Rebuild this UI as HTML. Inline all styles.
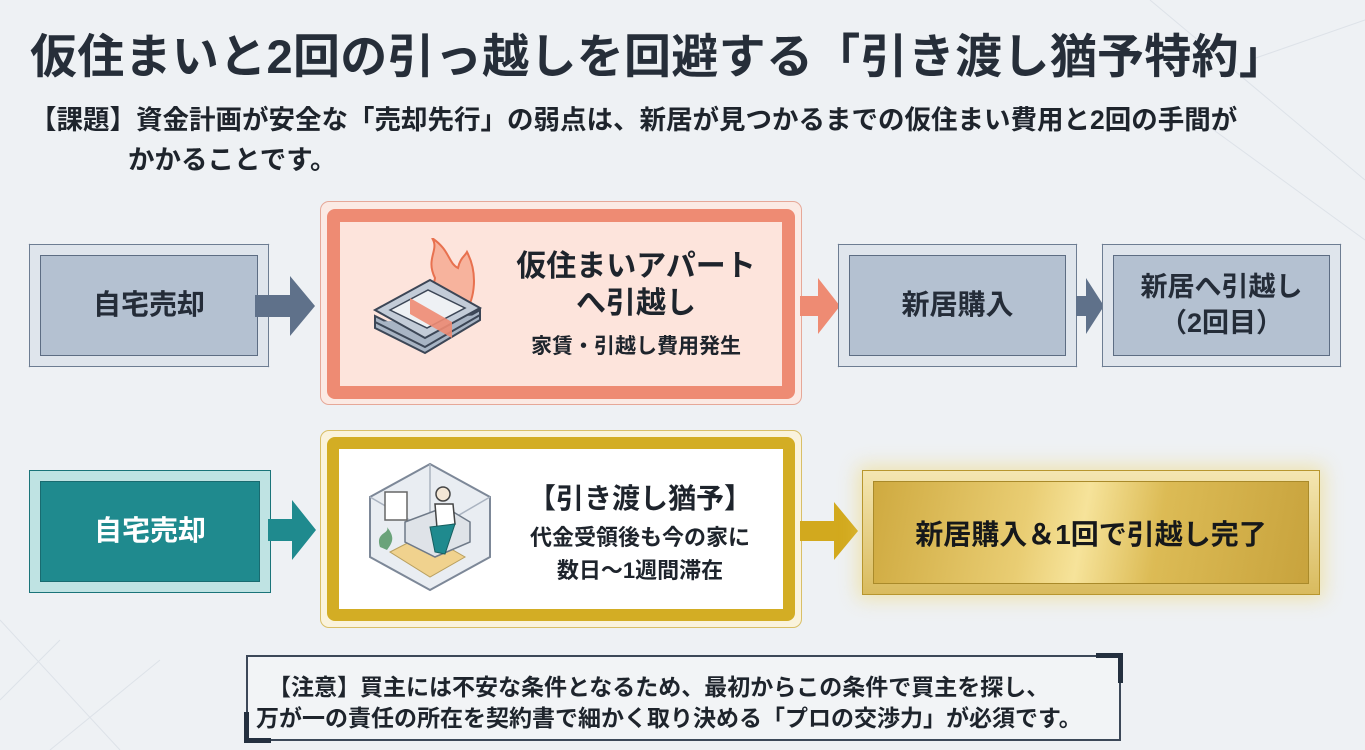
<!DOCTYPE html>
<html><head><meta charset="utf-8">
<style>
*{margin:0;padding:0;box-sizing:border-box}
body{width:1365px;height:750px;overflow:hidden;background:#eef1f4;font-family:"Liberation Sans","Noto Sans CJK JP",sans-serif;font-weight:bold;color:#1e242c;position:relative}
.a{position:absolute}
.t{white-space:nowrap}
.bev{position:absolute;border:1.5px solid #6d7d92;background:#dfe5ec}
.bev .in{position:absolute;left:10px;top:10px;right:10px;bottom:10px;border:1.5px solid #5d6d83;background:#b4c1d1;display:flex;align-items:center;justify-content:center;text-align:center;font-size:28px;color:#242c38;line-height:1.3}
.arr{position:absolute}
</style></head><body>
<svg class="a" style="left:0;top:0" width="1365" height="750">
<g stroke="#dde2e8" stroke-width="1" fill="none">
<path d="M1150 0 L1365 180 M1250 60 L1365 20 M1200 120 L1365 240"/>
<path d="M0 620 L120 750 M0 700 L60 640 M50 750 L160 660"/>
</g>
<g stroke="#5d6d83" stroke-width="1" fill="none">
<path d="M29 244 L39 254 M269 244 L259 254 M29 367 L39 357 M269 367 L259 357"/>
<path d="M838 244 L848 254 M1077 244 L1067 254 M838 367 L848 357 M1077 367 L1067 357"/>
<path d="M1102 244 L1112 254 M1341 244 L1331 254 M1102 367 L1112 357 M1341 367 L1331 357"/>
</g>
</svg>
<div class="a t" style="left:30px;top:18px;font-size:47px;color:#262e39;letter-spacing:0.3px">仮住まいと2回の引っ越しを回避する「引き渡し猶予特約」</div>
<div class="a t" style="left:30px;top:100px;font-size:26.5px;line-height:40px;color:#1e242c">【課題】資金計画が安全な「売却先行」の弱点は、新居が見つかるまでの仮住まい費用と2回の手間が</div>
<div class="a t" style="left:128px;top:140px;font-size:26.5px;line-height:40px;color:#1e242c">かかることです。</div>

<!-- row1 -->
<div class="bev" style="left:29px;top:244px;width:240px;height:123px"><div class="in">自宅売却</div></div>
<svg class="arr" style="left:255px;top:276px" width="62" height="60"><path d="M0 19 H35 V0 L60 30 L35 60 V41 H0Z" fill="#5f718a"/></svg>

<div class="a" style="left:320px;top:201px;width:482px;height:204px;border:1.5px solid #e6a898;border-radius:9px;background:#fbeae4"></div>
<div class="a" style="left:327px;top:209px;width:468px;height:190px;border:13px solid #ee8b73;border-radius:8px;background:#fde4dc"></div>
<svg class="a" style="left:370px;top:238px" width="115" height="135">
<path d="M65 40 C55 20 70 12 62 0 C80 12 78 25 88 30 C90 20 95 18 97 14 C108 35 105 60 95 75 L60 65Z" fill="#f7b39d" stroke="#e8714f" stroke-width="2"/>
<g stroke="#3c4656" stroke-width="2" fill="#a8b4c4">
<path d="M5 90 L55 115 L110 82 L110 72 L55 103 L5 78Z"/>
<path d="M5 84 L55 109 L110 77"/>
<path d="M5 72 L60 42 L110 70 L55 100Z" fill="#c3ccd8"/>
</g>
<path d="M20 72 L58 52 L95 70 L57 90Z" fill="#eef1f4" stroke="#3c4656" stroke-width="1.5"/>
<path d="M40 60 L82 84 L82 100 L40 76Z" fill="#ee8b73" opacity=".9"/>
</svg>
<div class="a t" style="left:490px;top:248px;width:292px;text-align:center;font-size:30px;line-height:37px">仮住まいアパート<br>へ引越し</div>
<div class="a t" style="left:490px;top:330px;width:292px;text-align:center;font-size:21px">家賃・引越し費用発生</div>
<svg class="arr" style="left:800px;top:276px" width="42" height="60"><path d="M0 20 H18 V2 L40 30 L18 58 V40 H0Z" fill="#ee8b73"/></svg>

<div class="bev" style="left:838px;top:244px;width:239px;height:123px"><div class="in">新居購入</div></div>
<svg class="arr" style="left:1076px;top:276px" width="30" height="60"><path d="M0 20 H10 V2 L28 30 L10 58 V40 H0Z" fill="#5f718a"/></svg>
<div class="bev" style="left:1102px;top:244px;width:239px;height:123px"><div class="in" style="font-size:27px">新居へ引越し<br>（2回目）</div></div>

<!-- row2 -->
<div class="bev" style="left:29px;top:470px;width:242px;height:123px;border-color:#1a7479;background:#bfe3e3"><div class="in" style="background:#1f8a8e;border-color:#196b70;color:#fff">自宅売却</div></div>
<svg class="arr" style="left:268px;top:500px" width="50" height="60"><path d="M0 19 H24 V0 L48 30 L24 60 V41 H0Z" fill="#1f8a8e"/></svg>

<div class="a" style="left:320px;top:430px;width:482px;height:198px;border:1.5px solid #d9bf66;border-radius:9px;background:#faf3dc"></div>
<div class="a" style="left:327px;top:437px;width:468px;height:184px;border:12px solid #d3ad24;border-radius:8px;background:#fff"></div>
<svg class="a" style="left:365px;top:462px" width="130" height="130">
<path d="M65 2 L125 35 L125 95 L65 128 L5 95 L5 35Z" fill="#e9edf2" stroke="#7d8898" stroke-width="2"/>
<path d="M65 70 L65 2 M65 70 L5 35 M65 70 L125 35" stroke="#aab3c0" stroke-width="1.5" fill="none"/>
<path d="M25 90 L60 72 L100 95 L65 115Z" fill="#f0d28e" stroke="#b9a060" stroke-width="1"/>
<path d="M40 60 L80 45 L105 60 L105 80 L70 95 L40 80Z" fill="#dfe3e8" stroke="#6f7a88" stroke-width="1.5"/>
<circle cx="78" cy="32" r="7" fill="#f4e7d6" stroke="#444" stroke-width="1.5"/>
<path d="M70 42 L88 42 L90 62 L72 66Z" fill="#fff" stroke="#444" stroke-width="1.5"/>
<path d="M65 65 L90 62 L80 92 L70 90Z" fill="#1f8a8e" stroke="#175f60" stroke-width="1"/>
<rect x="20" y="30" width="22" height="28" fill="#fff" stroke="#666" stroke-width="1.5"/>
<path d="M15 85 C10 70 25 72 22 65 C30 75 28 80 22 88Z" fill="#6aa37a"/>
</svg>
<div class="a t" style="left:495px;top:477px;width:290px;text-align:center;font-size:28px">【引き渡し猶予】</div>
<div class="a t" style="left:495px;top:521px;width:290px;text-align:center;font-size:22px;line-height:33px">代金受領後も今の家に<br>数日〜1週間滞在</div>
<svg class="arr" style="left:800px;top:502px" width="60" height="58"><path d="M0 19 H34 V0 L58 29 L34 58 V39 H0Z" fill="#d2a91e"/></svg>

<div class="a" style="left:862px;top:470px;width:458px;height:125px;border:1.5px solid #b8962e;background:linear-gradient(180deg,#f4e6b2,#d9bb5e);box-shadow:0 0 18px 4px rgba(240,210,90,.45)"></div>
<div class="a" style="left:873px;top:481px;width:436px;height:103px;border:1.5px solid #a98a2a;background:linear-gradient(100deg,#cfaa40 0%,#e9cd73 35%,#f6e39a 48%,#dcbb55 65%,#c8a33d 100%);display:flex;align-items:center;justify-content:center;font-size:28px;color:#16181b">新居購入＆1回で引越し完了</div>

<!-- note -->
<div class="a" style="left:246px;top:655px;width:875px;height:86px;border:2px solid #3c4858;background:#f2f4f6"></div>
<div class="a" style="left:1096px;top:653px;width:27px;height:5px;background:#24303f"></div>
<div class="a" style="left:1118px;top:653px;width:5px;height:30px;background:#24303f"></div>
<div class="a" style="left:244px;top:712px;width:5px;height:31px;background:#24303f"></div>
<div class="a" style="left:244px;top:738px;width:27px;height:5px;background:#24303f"></div>
<div class="a t" style="left:268px;top:672px;font-size:23px;line-height:30px">【注意】買主には不安な条件となるため、最初からこの条件で買主を探し、</div>
<div class="a t" style="left:256px;top:703px;font-size:23px;line-height:30px">万が一の責任の所在を契約書で細かく取り決める「プロの交渉力」が必須です。</div>
</body></html>
